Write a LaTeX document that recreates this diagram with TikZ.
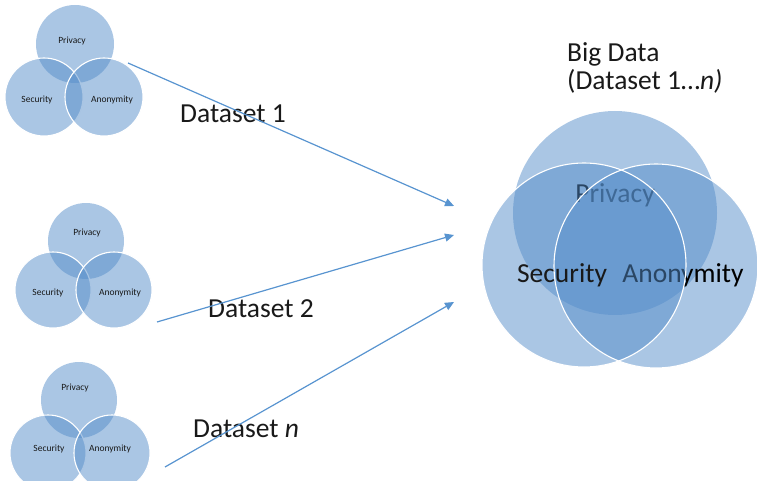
\documentclass[tikz,border=0pt]{standalone}
\usepackage{fontspec}
\setmainfont{Carlito}
\usetikzlibrary{arrows.meta}
\definecolor{vennblue}{RGB}{85,141,201}
\definecolor{arrowblue}{RGB}{88,148,208}
\definecolor{inkgray}{RGB}{25,25,25}
\tikzset{
  vennfill/.style={fill=vennblue, fill opacity=0.5},
  vennrim/.style={draw=white, line width=1.1pt},
  smalllabel/.style={font=\fontsize{9.5}{11}\selectfont, text=inkgray, inner sep=0pt},
  biglabel/.style={font=\fontsize{27.5}{29}\selectfont, inner sep=0pt, anchor=base},
  dslabel/.style={font=\fontsize{27.5}{29}\selectfont, text=inkgray, inner sep=0pt, anchor=base west},
  feed/.style={draw=arrowblue, line width=1.2pt, -{Triangle[length=9pt,width=8pt]}}
}
\begin{document}
\begin{tikzpicture}[x=1pt,y=-1pt]
\useasboundingbox (0,0) rectangle (757,481);

% ---- small Venn diagram for Dataset 1
\fill[vennfill] (75,44) circle[radius=39pt];
\fill[vennfill] (44,97) circle[radius=39pt];
\draw[vennrim] (44,97) circle[radius=39pt];
\fill[vennfill] (104,97) circle[radius=39pt];
\draw[vennrim] (104,97) circle[radius=39pt];
\node[smalllabel] (p1) at (72,41) {Privacy};
\node[smalllabel] (s1) at (37,100) {Security};
\node[smalllabel] (a1) at (112,100) {Anonymity};

% ---- small Venn diagram for Dataset 2
\fill[vennfill] (86,241) circle[radius=38pt];
\fill[vennfill] (53,290) circle[radius=38pt];
\draw[vennrim] (53,290) circle[radius=38pt];
\fill[vennfill] (114,290) circle[radius=38pt];
\draw[vennrim] (114,290) circle[radius=38pt];
\node[smalllabel] (p2) at (87,233) {Privacy};
\node[smalllabel] (s2) at (48,293) {Security};
\node[smalllabel] (a2) at (120,293) {Anonymity};

% ---- small Venn diagram for Dataset n
\fill[vennfill] (79,400) circle[radius=38pt];
\fill[vennfill] (48,453) circle[radius=38pt];
\draw[vennrim] (48,453) circle[radius=38pt];
\fill[vennfill] (112,453) circle[radius=38pt];
\draw[vennrim] (112,453) circle[radius=38pt];
\node[smalllabel] (p3) at (75,388) {Privacy};
\node[smalllabel] (s3) at (49,449) {Security};
\node[smalllabel] (a3) at (110,449) {Anonymity};

% ---- big Venn diagram (layers stacked: top, right, left)
\fill[vennfill] (615,213) circle[radius=102pt];
\node[biglabel, text=black] (bp) at (615,202) {Privacy};
\fill[vennfill] (656,266) circle[radius=102pt];
\node[biglabel, text=black] (ba) at (683,282) {Anonymity};
\fill[vennfill] (584,265) circle[radius=102pt];
\node[biglabel, text=inkgray] (bs) at (562,282) {Security};
\draw[vennrim] (656,266) circle[radius=102pt];
\draw[vennrim] (584,265) circle[radius=102pt];

% ---- titles
\node[dslabel] (big) at (567,62) {Big Data};
\node[dslabel] (bigsub) at (567,90) {(Dataset 1…\textit{n)}};
\node[dslabel] (d1) at (180,123) {Dataset 1};
\node[dslabel] (d2) at (208,317) {Dataset 2};
\node[dslabel] (dn) at (193,437) {Dataset \textit{n}};

% ---- arrows into the big data set
\coordinate (f1) at (128,63);
\coordinate (f2) at (157,322);
\coordinate (f3) at (165,467);
\coordinate (t1) at (454,206);
\coordinate (t2) at (454,235);
\coordinate (t3) at (454,302);
\draw[feed] (f1) -- (t1);
\draw[feed] (f2) -- (t2);
\draw[feed] (f3) -- (t3);
\end{tikzpicture}
\end{document}
